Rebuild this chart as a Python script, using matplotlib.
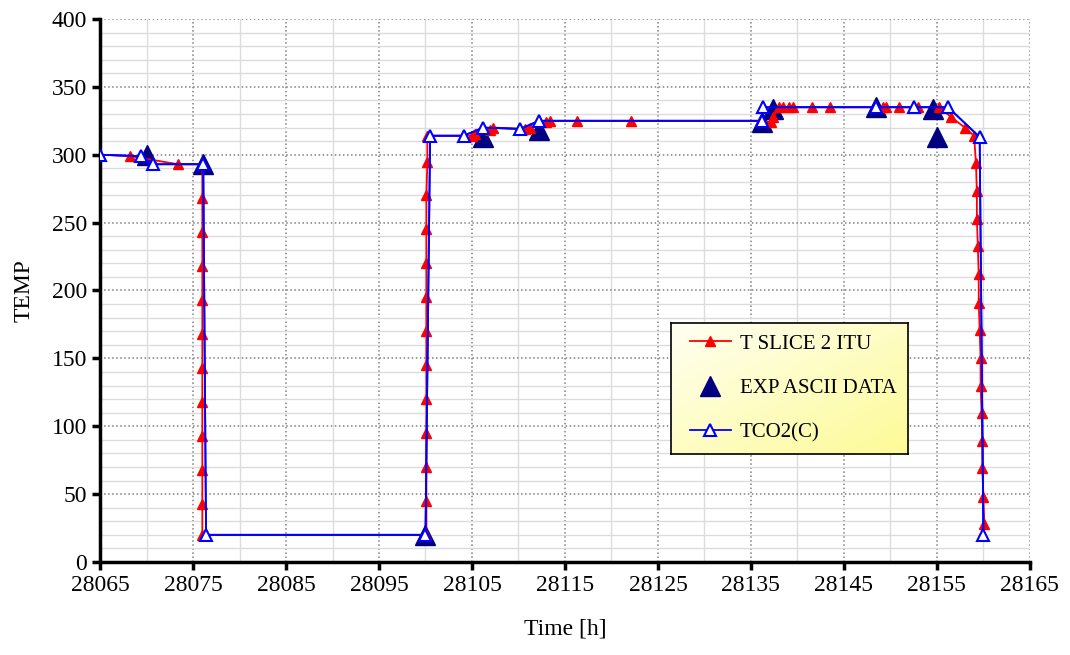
import numpy as np
import matplotlib
matplotlib.use("Agg")
from matplotlib import pyplot as plt
from matplotlib.ticker import MultipleLocator
from matplotlib.colors import LinearSegmentedColormap

# T SLICE 2 ITU (red)
slice_x = [28065, 28068.2, 28073.4, 28076.0, 28076.0, 28076.0, 28076.0, 28076.0, 28076.0,
           28076.0, 28076.0, 28076.0, 28076.0, 28076.0, 28076.0,
           28100.1, 28100.1, 28100.1, 28100.1, 28100.1, 28100.1, 28100.1, 28100.1, 28100.1,
           28100.1, 28100.1, 28100.2, 28100.2,
           28105.0, 28105.3, 28106.9, 28107.3, 28110.7, 28111.2, 28113.0, 28113.4,
           28116.3, 28122.1, 28136.0, 28137.2, 28137.4, 28138.0, 28138.4, 28139.1,
           28139.5, 28141.6, 28143.5, 28149.2, 28149.5, 28150.9, 28153.0, 28155.2,
           28156.5, 28158.0, 28159.0, 28159.2, 28159.3, 28159.3, 28159.4, 28159.5,
           28159.5, 28159.6, 28159.7, 28159.7, 28159.8, 28159.9, 28159.9, 28160.0, 28160.1]
slice_y = [300, 299, 293, 293, 268, 243, 218, 193, 168, 143, 118, 93, 68, 43, 20,
           20, 45, 70, 95, 120, 145, 170, 195, 220, 245, 270, 295, 314,
           314, 315, 318, 320, 319, 320, 324, 325,
           325, 325, 325, 324, 328, 335, 335, 335,
           335, 335, 335, 335, 335, 335, 335, 335,
           328, 320, 314, 294, 273, 253, 233, 212,
           191, 171, 150, 130, 110, 89, 69, 48, 28]

# EXP ASCII DATA (navy)
exp_x = [28070.0, 28076.1, 28100.0, 28106.2, 28112.2, 28136.2, 28137.4, 28148.5, 28154.6, 28155.0]
exp_y = [300, 293, 20, 313, 318, 324, 334, 335, 334, 313]

# TCO2(C) (blue)
tco_x = [28065, 28069.4, 28070.7, 28076.1, 28076.4, 28100.0, 28100.5, 28104.1, 28106.2,
         28110.2, 28112.2, 28136.2, 28136.3, 28148.5, 28152.5, 28156.2, 28159.6, 28160.0]
tco_y = [300, 299, 293, 293, 20, 20, 314, 314, 320,
         319, 325, 325, 335, 335, 335, 335, 313, 20]

x_ticks = list(range(28065, 28166, 10))

plt.rcParams['font.family'] = ['Liberation Serif', 'DejaVu Serif']

fig = plt.figure(figsize=(10.7, 6.55), dpi=100)
ax = fig.add_axes([0.0935, 0.142, 0.869, 0.829])

ax.plot(tco_x, tco_y, color='#0000ff', lw=1.3, marker='^', ms=9, mfc='white',
        mec='#0000ff', mew=1.5, zorder=3, label='TCO2(C)')
ax.plot(exp_x, exp_y, ls='none', marker='^', ms=14, color='#000080', zorder=2,
        label='EXP ASCII DATA')
ax.plot(slice_x, slice_y, color='#ff0000', lw=1.3, marker='^', ms=6.5, mfc='#ff0000',
        mec='#ff0000', zorder=2.5, label='T SLICE 2 ITU')
# blue line again on top of red where they overlap
ax.plot(tco_x, tco_y, color='#0000ff', lw=1.3, zorder=2.6)

ax.set_xlim(28065, 28165)
ax.set_ylim(0, 400)
ax.set_xticks(x_ticks)
ax.xaxis.set_minor_locator(MultipleLocator(5))
ax.yaxis.set_major_locator(MultipleLocator(50))
ax.yaxis.set_minor_locator(MultipleLocator(10))
ax.grid(which='major', color='#808080', ls=':', lw=1.1)
ax.grid(which='minor', color='#dcdcdc', ls='-', lw=1.0)
ax.set_axisbelow(True)
ax.tick_params(which='major', direction='out', length=6, width=2.5, labelsize=17)
ax.tick_params(which='minor', length=0)
ax.spines['top'].set_visible(False)
ax.spines['right'].set_visible(False)
ax.spines['left'].set_linewidth(2.5)
ax.spines['bottom'].set_linewidth(2.5)
ax.set_xlabel('Time [h]', fontsize=17, labelpad=16)
ax.set_ylabel('TEMP', fontsize=17, labelpad=12)

# legend box with yellow gradient
lax = fig.add_axes([0.627, 0.307, 0.222, 0.200])
gx, gy = np.meshgrid(np.linspace(0, 1, 100), np.linspace(0, 1, 100))
grad = (gx + gy) / 2
cmap = LinearSegmentedColormap.from_list('yel', ['#fffff2', '#fdfb96'])
lax.imshow(grad, cmap=cmap, aspect='auto', extent=[0, 1, 0, 1], origin='upper')
lax.set_xticks([])
lax.set_yticks([])
for s in lax.spines.values():
    s.set_linewidth(1.2)
h, l = ax.get_legend_handles_labels()
order = [2, 1, 0]
lax.legend([h[i] for i in order], [l[i] for i in order], loc='center left',
           bbox_to_anchor=(0.0, 0.5), frameon=False, fontsize=15,
           labelspacing=1.2, handlelength=2.0, handletextpad=0.4)

fig.savefig('out.png', dpi=100)
